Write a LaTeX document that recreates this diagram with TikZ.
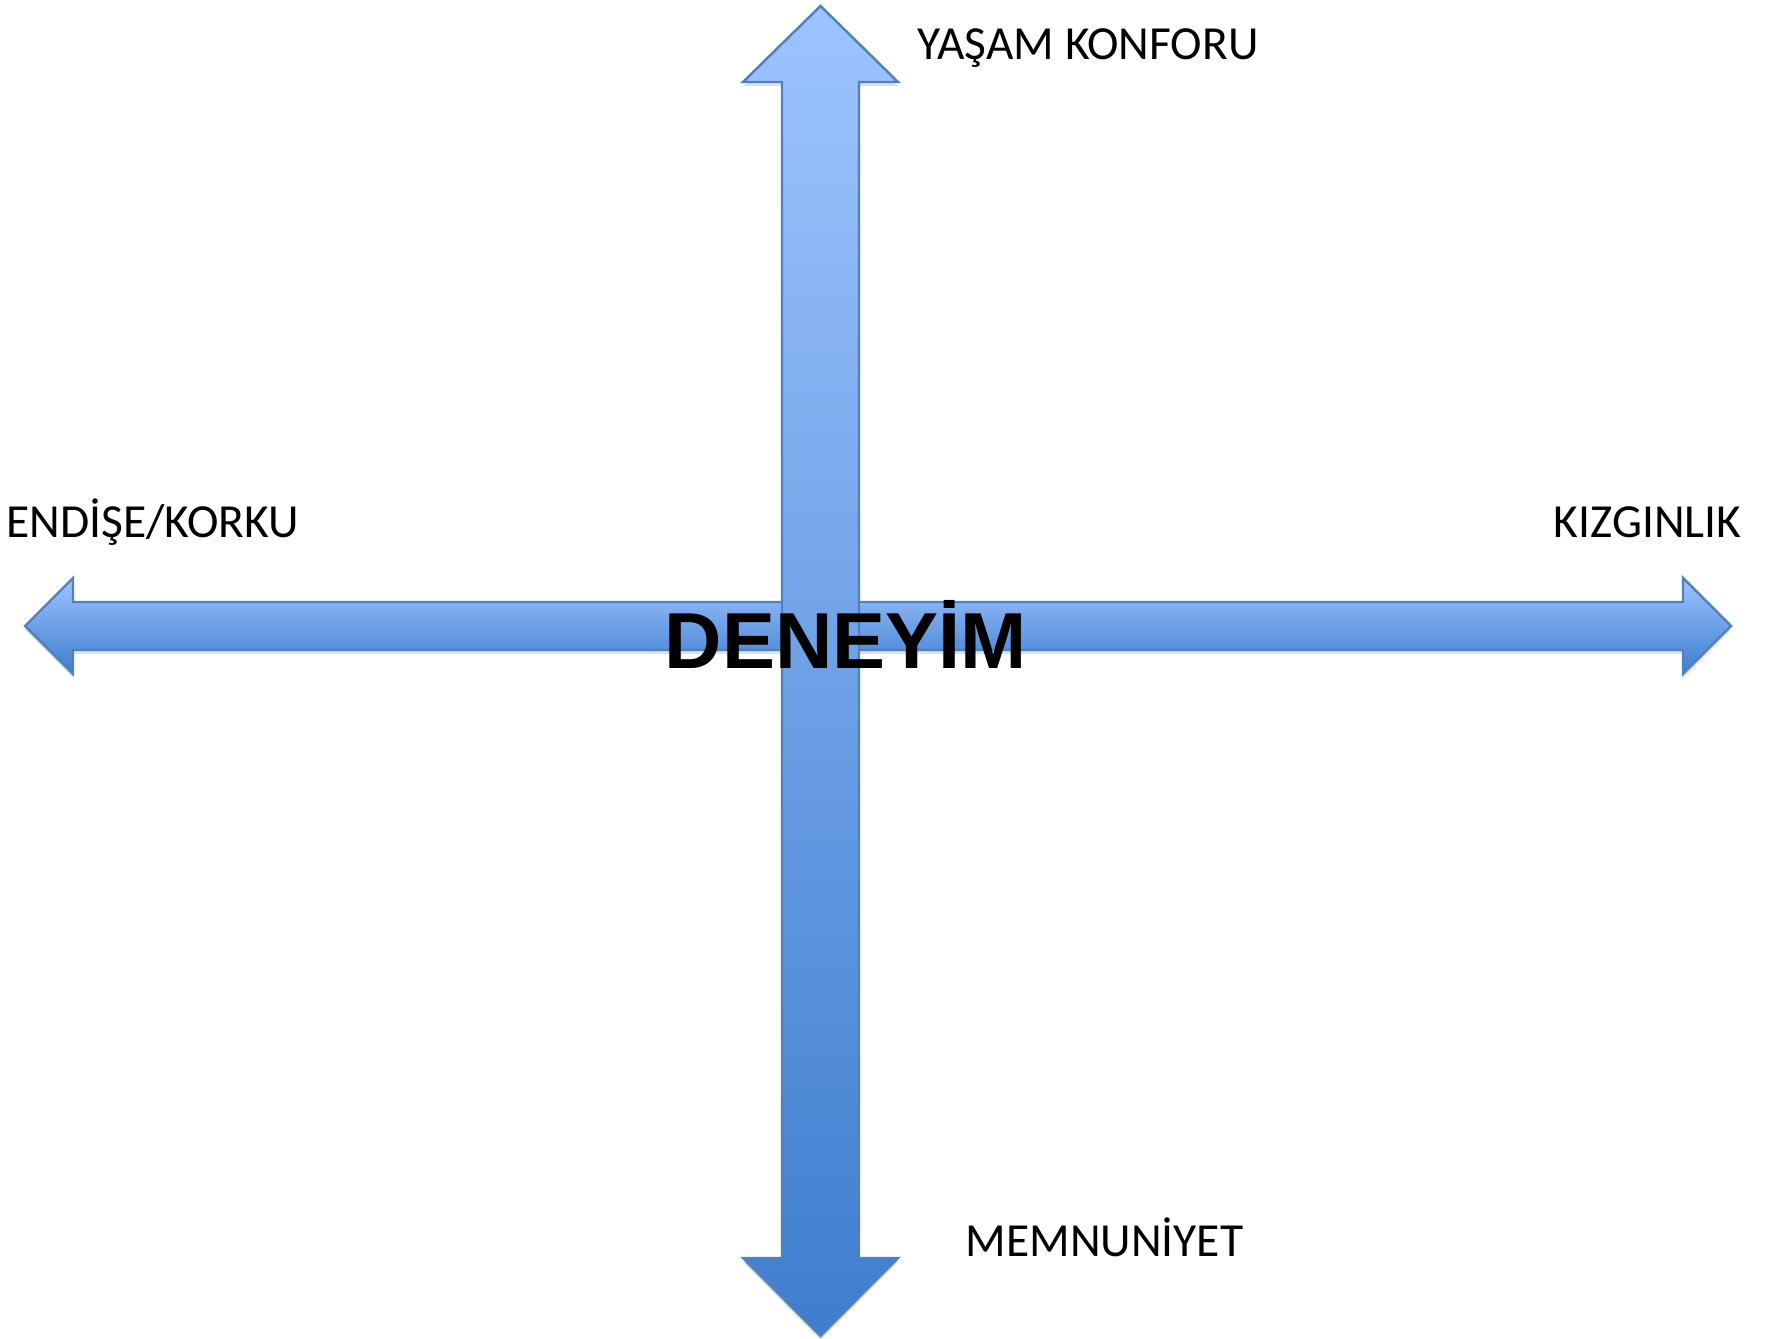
\documentclass[tikz,border=0pt]{standalone}
\usepackage{fontspec}
\setmainfont{Carlito}
\newfontfamily\boldsans{Liberation Sans}
\usepackage{xcolor}

\definecolor{arrowtop}{RGB}{158,196,255}
\definecolor{arrowbot}{RGB}{62,125,206}
\definecolor{arrowedge}{RGB}{79,129,189}

\begin{document}
\begin{tikzpicture}[x=0.01cm,y=0.01cm,
  bigarrow/.style={draw=arrowedge, line width=0.7pt, line join=miter, top color=arrowtop, bottom color=arrowbot},
  arrowshadow/.style={fill=black, opacity=0.12},
  axislabel/.style={inner sep=0pt, font=\fontsize{13.5}{16}\selectfont}]
\useasboundingbox (0,0) rectangle (1787,1339);

% Horizontal axis
\fill[arrowshadow] (25,709) -- (73,757) -- (73,733) -- (1683,733) -- (1683,757) -- (1731,709)
  -- (1683,661) -- (1683,685) -- (73,685) -- (73,661) -- cycle;
\shade[bigarrow] (25,713) -- (73,761) -- (73,737) -- (1683,737) -- (1683,761) -- (1731,713)
  -- (1683,665) -- (1683,689) -- (73,689) -- (73,665) -- cycle;

% Vertical axis
\fill[arrowshadow] (820.5,1329) -- (898,1253) -- (859,1253) -- (859,77) -- (898,77) -- (820.5,-1)
  -- (743,77) -- (782,77) -- (782,1253) -- (743,1253) -- cycle;
\shade[bigarrow] (820.5,1333) -- (898,1257) -- (859,1257) -- (859,81) -- (898,81) -- (820.5,3)
  -- (743,81) -- (782,81) -- (782,1257) -- (743,1257) -- cycle;

% Labels
\node[axislabel, anchor=base west] (yasam) at (917,1279) {YAŞAM KONFORU};
\node[axislabel, anchor=base west] (endise) at (6,801) {ENDİŞE/KORKU};
\node[axislabel, anchor=base east] (kizgin) at (1742,801) {KIZGINLIK};
\node[axislabel, anchor=base west] (memnun) at (965,82) {MEMNUNİYET};
\node[inner sep=0pt, anchor=base, font=\boldsans\bfseries\fontsize{22.6}{26}\selectfont] (deneyim) at (846,670) {DENEYİM};
\end{tikzpicture}
\end{document}
